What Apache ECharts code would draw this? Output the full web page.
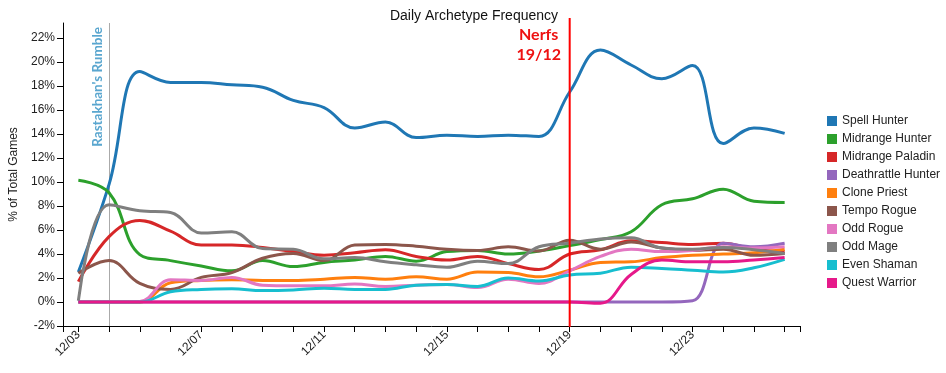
<!DOCTYPE html>
<html>
<head>
<meta charset="utf-8">
<script src="https://cdn.jsdelivr.net/npm/echarts@6/dist/echarts.min.js"></script>
<style>
html,body{margin:0;padding:0;background:#fff;}
#chart{width:946px;height:373px;}
</style>
</head>
<body>
<div id="chart"></div>
<script>
const days = ['12/03','12/04','12/05','12/06','12/07','12/08','12/09','12/10','12/11','12/12','12/13','12/14','12/15','12/16','12/17','12/18','12/19','12/20','12/21','12/22','12/23','12/24','12/25','12/26'];
const yTicks = [-2,0,2,4,6,8,10,12,14,16,18,20,22];

const spellHunter      = [2.5, 9.8, 19.2, 18.3, 18.3, 18.1, 17.9, 16.8, 16.2, 14.5, 15.0, 13.7, 13.9, 13.8, 13.9, 13.8, 17.5, 21.0, 19.75, 18.6, 19.7, 13.2, 14.5, 14.05];
const midrangeHunter   = [10.15, 9.1, 3.95, 3.45, 3.0, 2.6, 3.45, 2.95, 3.3, 3.5, 3.8, 3.4, 4.2, 4.3, 4.0, 4.25, 4.7, 5.2, 5.85, 8.1, 8.6, 9.4, 8.4, 8.3];
const midrangePaladin  = [1.7, 5.45, 6.8, 5.9, 4.75, 4.75, 4.55, 4.2, 3.9, 4.1, 4.35, 3.8, 3.5, 3.8, 3.2, 2.7, 4.0, 4.35, 5.1, 4.95, 4.8, 4.9, 4.4, 4.2];
const deathrattleHunter= [0, 0, 0, 0, 0, 0, 0, 0, 0, 0, 0, 0, 0, 0, 0, 0, 0, 0, 0, 0, 0.1, 4.9, 4.6, 4.9];
const clonePriest      = [0, 0, 0, 1.6, 1.8, 1.85, 1.8, 1.8, 1.9, 2.05, 1.9, 2.1, 1.9, 2.5, 2.45, 2.1, 2.65, 3.3, 3.35, 3.7, 3.9, 4.0, 4.1, 4.4];
const tempoRogue       = [2.4, 3.45, 1.55, 1.05, 2.05, 2.45, 3.65, 4.05, 3.45, 4.75, 4.8, 4.65, 4.4, 4.3, 4.6, 4.25, 5.15, 4.4, 5.0, 4.5, 4.3, 4.4, 3.9, 4.05];
const oddRogue         = [0, 0, 0.05, 1.85, 1.8, 2.05, 1.4, 1.35, 1.35, 1.5, 1.3, 1.4, 1.45, 1.2, 1.9, 1.55, 2.6, 3.8, 4.4, 4.2, 4.3, 4.6, 4.5, 4.6];
const oddMage          = [0.1, 8.1, 7.6, 7.45, 5.75, 5.85, 4.45, 4.4, 3.6, 3.7, 3.35, 3.1, 2.9, 3.4, 3.2, 4.6, 4.9, 5.25, 5.35, 4.5, 4.4, 4.55, 4.35, 4.05];
const evenShaman       = [0, 0, 0, 0.85, 1.05, 1.1, 0.95, 1.0, 1.15, 1.05, 1.05, 1.4, 1.45, 1.3, 2.0, 1.75, 2.25, 2.4, 2.9, 2.8, 2.65, 2.5, 2.85, 3.55];
const questWarrior     = [0, 0, 0, 0, 0, 0, 0, 0, 0, 0, 0, 0, 0, 0, 0, 0, 0, -0.1, 2.3, 3.5, 3.35, 3.35, 3.5, 3.7];

const seriesNames = ['Spell Hunter','Midrange Hunter','Midrange Paladin','Deathrattle Hunter','Clone Priest','Tempo Rogue','Odd Rogue','Odd Mage','Even Shaman','Quest Warrior'];
const seriesData = [spellHunter, midrangeHunter, midrangePaladin, deathrattleHunter, clonePriest, tempoRogue, oddRogue, oddMage, evenShaman, questWarrior];
const colors = ['#1f77b4','#2ca02c','#d62728','#9467bd','#ff7f0e','#8c564b','#e377c2','#7f7f7f','#17becf','#e6198a'];

const rumbleDay = '12/04';
const nerfDay = '12/19';

const FONT = '"Liberation Sans", Arial, sans-serif';
const chart = echarts.init(document.getElementById('chart'), null, {renderer: 'canvas'});

const option = {
  animation: false,
  color: colors,
  title: {
    text: 'Daily Archetype Frequency',
    left: 469, top: 4, textAlign: 'center',
    textStyle: {fontFamily: FONT, fontSize: 14, fontWeight: 'normal', color: '#111'}
  },
  legend: {
    orient: 'vertical', left: 822, top: 110,
    itemWidth: 10, itemHeight: 10, itemGap: 6,
    icon: 'rect',
    textStyle: {fontFamily: FONT, fontSize: 12, color: '#222', lineHeight: 12},
    data: seriesNames
  },
  grid: {left: 63, right: 146, top: 23, bottom: 47, containLabel: false},
  xAxis: [{
    type: 'category', data: days, boundaryGap: true,
    axisLine: {show: true, onZero: false, lineStyle: {color: '#000', width: 1}},
    axisTick: {show: true, alignWithLabel: true, interval: 0, length: 6, lineStyle: {color: '#000', width: 1}},
    axisLabel: {show: true, interval: 3, rotate: 45, margin: 7, fontFamily: FONT, fontSize: 12, color: '#222'},
    splitLine: {show: false}
  }, {
    type: 'category', data: ['s','e'], boundaryGap: false, position: 'bottom',
    axisLine: {show: false, onZero: false},
    axisTick: {show: true, length: 6, lineStyle: {color: '#000'}},
    axisLabel: {show: false},
    splitLine: {show: false}
  }],
  yAxis: {
    type: 'value', min: -2, max: 23.25, interval: 2,
    name: '% of Total Games', nameLocation: 'middle', nameGap: 38,
    nameTextStyle: {fontFamily: FONT, fontSize: 12, color: '#222'},
    axisLine: {show: true, lineStyle: {color: '#000', width: 1}},
    axisTick: {show: true, length: 6, lineStyle: {color: '#000'}},
    axisLabel: {showMaxLabel: false, fontFamily: FONT, fontSize: 12, color: '#222', margin: 8,
      formatter: v => (yTicks.indexOf(v) >= 0 ? v + '%' : '')},
    splitLine: {show: false}
  },
  series: seriesNames.map((n, i) => ({
    name: n, type: 'line', data: seriesData[i], xAxisIndex: 0,
    smooth: 0.4, showSymbol: false, symbol: 'none',
    lineStyle: {width: 3, color: colors[i]},
    itemStyle: {color: colors[i]},
    z: 2 + i
  }))
};
chart.setOption(option);

const xr = chart.convertToPixel({xAxisIndex: 0}, rumbleDay);
const xn = chart.convertToPixel({xAxisIndex: 0}, nerfDay);
const yTop = chart.convertToPixel({yAxisIndex: 0}, 23.25);
const yBot = chart.convertToPixel({yAxisIndex: 0}, -2);

chart.setOption({
  graphic: [
    {type: 'line', z: 1, shape: {x1: Math.round(xr) + 0.5, y1: yTop, x2: Math.round(xr) + 0.5, y2: yBot},
     style: {stroke: '#aaa', lineWidth: 1}, silent: true},
    {type: 'text', z: 20, x: xr - 4, y: yTop + 4, rotation: Math.PI / 2,
     style: {text: "Rastakhan's Rumble", fill: '#5aa6cf', font: 'bold 13.5px Lato, "Liberation Sans", sans-serif',
       align: 'right', verticalAlign: 'bottom'}, silent: true},
    {type: 'line', z: 30, shape: {x1: xn, y1: yTop - 5, x2: xn, y2: yBot + 1},
     style: {stroke: '#ff0000', lineWidth: 2}, silent: true},
    {type: 'text', z: 30, x: xn - 31, y: yTop + 2,
     style: {text: 'Nerfs\n19/12', fill: '#ee1111', font: 'bold 16px Lato, "Liberation Sans", sans-serif',
       lineHeight: 20, align: 'center', verticalAlign: 'top'}, silent: true}
  ]
});
</script>
</body>
</html>
